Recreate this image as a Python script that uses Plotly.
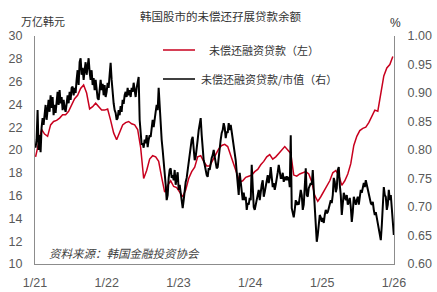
import pandas as pd
import plotly.graph_objects as go

# ---- data ----
title_text = "韩国股市的未偿还孖展贷款余额"
left_unit = "万亿韩元"
right_unit = "%"
red_name = "未偿还融资贷款（左）"
black_name = "未偿还融资贷款/市值（右）"
source_text = "资料来源：韩国金融投资协会"

x_tickvals = ["2021-01-01", "2022-01-01", "2023-01-01", "2024-01-01", "2025-01-01", "2026-01-01"]
x_ticktext = ["1/21", "1/22", "1/23", "1/24", "1/25", "1/26"]

# outstanding margin loans, trillion KRW (left axis), sampled evenly in time
loans = [19.4, 20.6, 21.8, 21.4, 21.2, 22.2, 22.5, 22.6, 22.8, 23.1,
         23.1, 23.4, 23.9, 24.5, 24.8, 25.4, 25.7, 25.0, 23.6, 23.8,
         24.1, 23.8, 23.5, 23.5, 23.6, 22.6, 21.5, 20.9, 21.5, 22.2,
         22.4, 22.5, 22.3, 22.2, 21.8, 20.2, 17.5, 18.2, 19.2, 19.5,
         19.4, 19.0, 17.6, 16.3, 16.9, 17.3, 16.8, 16.7, 16.3, 15.9,
         16.5, 17.5, 18.1, 18.5, 19.4, 19.5, 19.0, 18.6, 18.6, 19.1,
         19.5, 20.1, 20.4, 20.5, 20.3, 19.5, 18.8, 18.0, 17.2, 17.3,
         17.6, 17.7, 17.8, 18.1, 18.3, 18.7, 19.0, 19.4, 19.6, 19.2,
         19.4, 19.7, 20.0, 20.3, 20.0, 19.7, 17.8, 17.7, 17.9, 18.0,
         18.1, 17.9, 17.2, 16.0, 15.5, 15.9, 16.4, 16.9, 17.3, 18.0,
         18.2, 17.8, 16.9, 17.3, 17.9, 18.8, 20.4, 21.2, 21.7, 21.9,
         22.0, 22.4, 23.0, 23.5, 23.4, 25.0, 26.5, 27.2, 27.5, 28.2]

# outstanding margin loans / market cap, % (right axis), sampled evenly in time
ratio = [0.804, 0.818, 0.870, 0.800, 0.826, 0.796, 0.839, 0.856, 0.844, 0.865,
         0.879, 0.853, 0.870, 0.888, 0.867, 0.896, 0.874, 0.893, 0.861, 0.879,
         0.865, 0.888, 0.902, 0.879, 0.905, 0.882, 0.893, 0.870, 0.888, 0.874,
         0.867, 0.881, 0.896, 0.882, 0.902, 0.888, 0.909, 0.911, 0.896, 0.909,
         0.900, 0.923, 0.940, 0.914, 0.954, 0.961, 0.932, 0.944, 0.923, 0.940,
         0.954, 0.932, 0.949, 0.961, 0.937, 0.923, 0.940, 0.914, 0.926, 0.905,
         0.923, 0.902, 0.891, 0.888, 0.909, 0.923, 0.905, 0.916, 0.896, 0.914,
         0.893, 0.902, 0.918, 0.909, 0.932, 0.953, 0.923, 0.896, 0.882, 0.870,
         0.865, 0.853, 0.856, 0.870, 0.861, 0.877, 0.867, 0.888, 0.881, 0.896,
         0.902, 0.893, 0.909, 0.896, 0.905, 0.893, 0.909, 0.902, 0.918, 0.905,
         0.893, 0.909, 0.923, 0.928, 0.853, 0.818, 0.809, 0.812, 0.804, 0.818,
         0.812, 0.826, 0.805, 0.818, 0.826, 0.823, 0.840, 0.853, 0.840, 0.861,
         0.867, 0.879, 0.870, 0.909, 0.870, 0.835, 0.818, 0.800, 0.782, 0.756,
         0.739, 0.712, 0.721, 0.751, 0.765, 0.768, 0.751, 0.756, 0.747, 0.765,
         0.739, 0.751, 0.761, 0.730, 0.739, 0.725, 0.712, 0.698, 0.712, 0.730,
         0.744, 0.751, 0.765, 0.777, 0.786, 0.800, 0.818, 0.823, 0.800, 0.782,
         0.788, 0.800, 0.818, 0.835, 0.844, 0.856, 0.826, 0.800, 0.782, 0.774,
         0.761, 0.756, 0.753, 0.768, 0.765, 0.777, 0.786, 0.791, 0.800, 0.788,
         0.779, 0.768, 0.770, 0.791, 0.800, 0.818, 0.830, 0.835, 0.847, 0.839,
         0.821, 0.832, 0.830, 0.847, 0.835, 0.844, 0.832, 0.818, 0.809, 0.800,
         0.782, 0.761, 0.735, 0.721, 0.760, 0.739, 0.721, 0.712, 0.725, 0.712,
         0.718, 0.695, 0.707, 0.704, 0.716, 0.712, 0.774, 0.739, 0.700, 0.695,
         0.704, 0.716, 0.721, 0.730, 0.712, 0.730, 0.739, 0.747, 0.718, 0.726,
         0.739, 0.747, 0.756, 0.742, 0.751, 0.770, 0.751, 0.735, 0.742, 0.730,
         0.739, 0.747, 0.761, 0.774, 0.756, 0.751, 0.751, 0.760, 0.744, 0.753,
         0.747, 0.754, 0.747, 0.753, 0.735, 0.826, 0.698, 0.691, 0.682, 0.695,
         0.712, 0.704, 0.707, 0.704, 0.721, 0.730, 0.721, 0.695, 0.704, 0.730,
         0.768, 0.721, 0.718, 0.733, 0.739, 0.742, 0.739, 0.765, 0.730, 0.700,
         0.668, 0.639, 0.651, 0.677, 0.686, 0.682, 0.674, 0.681, 0.672, 0.686,
         0.695, 0.689, 0.691, 0.698, 0.704, 0.712, 0.707, 0.721, 0.751, 0.744,
         0.726, 0.733, 0.765, 0.770, 0.739, 0.721, 0.686, 0.712, 0.725, 0.718,
         0.712, 0.721, 0.704, 0.709, 0.716, 0.700, 0.674, 0.691, 0.718, 0.712,
         0.704, 0.712, 0.718, 0.704, 0.721, 0.730, 0.725, 0.733, 0.742, 0.735,
         0.747, 0.739, 0.730, 0.721, 0.712, 0.707, 0.704, 0.709, 0.695, 0.686,
         0.691, 0.681, 0.677, 0.663, 0.656, 0.642, 0.668, 0.704, 0.735, 0.721,
         0.718, 0.695, 0.704, 0.730, 0.712, 0.721, 0.691, 0.668, 0.651]

loan_dates = pd.date_range("2021-01-04", "2025-12-26", periods=len(loans))
ratio_dates = pd.date_range("2021-01-04", "2025-12-31", periods=len(ratio))

# ---- figure ----
W, H = 437, 292
ML, MR, MT, MB = 35, 43, 36, 28
pw, ph = W - ML - MR, H - MT - MB

def px(x):
    return (x - ML) / pw

def py(y):
    return (H - MB - y) / ph

tick_font = dict(family="Liberation Sans, Arial, sans-serif", size=12.5, color="#595959")
cjk = "Noto Sans CJK SC, sans-serif"
axis_color = "#8c8c8c"

fig = go.Figure()
fig.add_trace(go.Scatter(x=loan_dates, y=loans, mode="lines", name=red_name,
                         line=dict(color="#C8001E", width=1.5), yaxis="y"))
fig.add_trace(go.Scatter(x=ratio_dates, y=ratio, mode="lines", name=black_name,
                         line=dict(color="#000000", width=2), yaxis="y2"))

fig.update_layout(
    width=W, height=H,
    margin=dict(l=ML, r=MR, t=MT, b=MB, autoexpand=False),
    paper_bgcolor="white", plot_bgcolor="white",
    showlegend=False,
    xaxis=dict(type="date", range=["2021-01-01", "2026-01-01"],
               tickvals=x_tickvals, ticktext=x_ticktext, tickfont=tick_font,
               showgrid=False, zeroline=False, showline=True, linecolor=axis_color,
               linewidth=1, ticks="", ticklabelstandoff=7, automargin=False),
    yaxis=dict(range=[10, 30], dtick=2, tickfont=tick_font, showgrid=False,
               zeroline=False, showline=True, linecolor=axis_color, linewidth=1,
               ticks="", ticklabelstandoff=9, automargin=False),
    yaxis2=dict(range=[0.60, 1.00], dtick=0.05, tickformat=".2f", overlaying="y",
                side="right", tickfont=tick_font, showgrid=False, zeroline=False,
                showline=True, linecolor=axis_color, linewidth=1, ticks="",
                ticklabelstandoff=10, automargin=False),
)

ann = []
ann.append(dict(text=title_text, xref="paper", yref="paper", x=px(221), y=py(16),
                xanchor="center", yanchor="middle", showarrow=False,
                font=dict(family=cjk, size=11.5, color="#333333")))
ann.append(dict(text=left_unit, xref="paper", yref="paper", x=px(43), y=py(21),
                xanchor="center", yanchor="middle", showarrow=False,
                font=dict(family=cjk, size=11, color="#333333")))
ann.append(dict(text=right_unit, xref="paper", yref="paper", x=px(395), y=py(23),
                xanchor="center", yanchor="middle", showarrow=False,
                font=dict(family="Liberation Sans, Arial, sans-serif", size=12, color="#333333")))
ann.append(dict(text=red_name, xref="paper", yref="paper", x=px(207), y=py(50),
                xanchor="left", yanchor="middle", showarrow=False,
                font=dict(family=cjk, size=11, color="#333333")))
ann.append(dict(text=black_name, xref="paper", yref="paper", x=px(199), y=py(79),
                xanchor="left", yanchor="middle", showarrow=False,
                font=dict(family=cjk, size=11, color="#333333")))
ann.append(dict(text="<i>" + source_text + "</i>", xref="paper", yref="paper",
                x=px(47), y=py(253), xanchor="left", yanchor="middle", showarrow=False,
                font=dict(family=cjk, size=11.5, color="#404040")))
fig.update_layout(annotations=ann)

fig.add_shape(type="line", xref="paper", yref="paper", x0=px(163), x1=px(195),
              y0=py(50), y1=py(50), line=dict(color="#C8001E", width=1.5))
fig.add_shape(type="line", xref="paper", yref="paper", x0=px(163), x1=px(195),
              y0=py(79), y1=py(79), line=dict(color="#000000", width=1.5))

fig.write_html("out.html")
